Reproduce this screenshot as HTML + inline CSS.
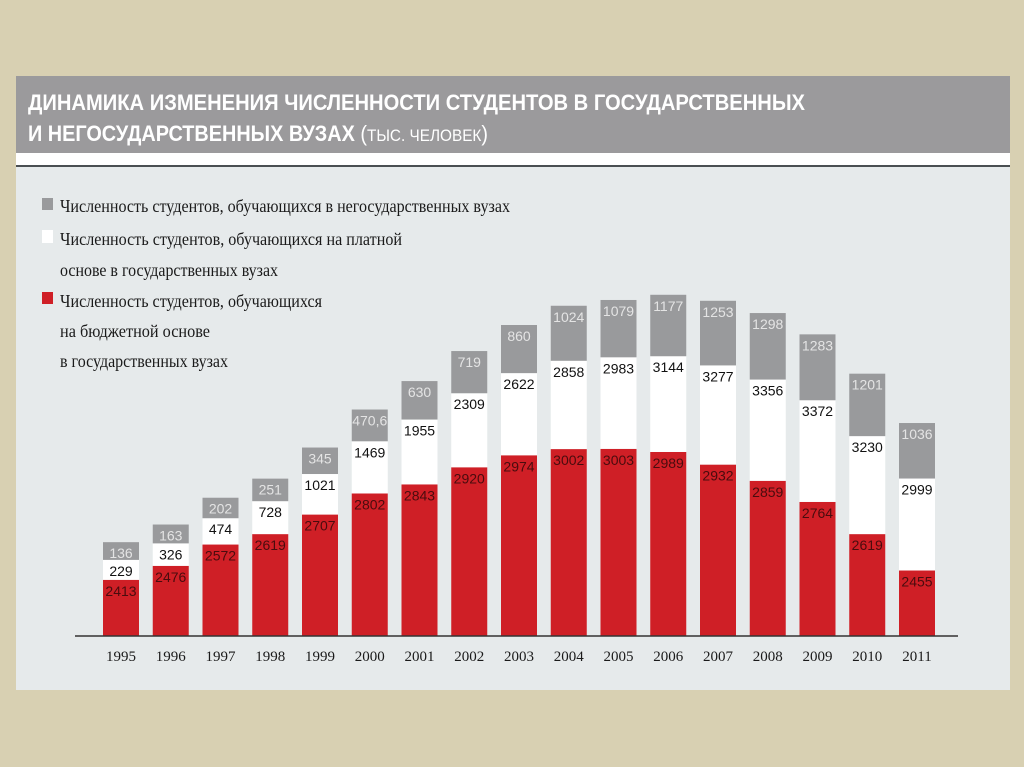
<!DOCTYPE html>
<html><head><meta charset="utf-8"><style>
html,body{margin:0;padding:0;width:1024px;height:767px;overflow:hidden;background:#d8d0b2}
svg{display:block}
</style></head><body>
<svg width="1024" height="767" viewBox="0 0 1024 767">
<rect x="0" y="0" width="1024" height="767" fill="#d8d0b2"/>
<rect x="16" y="76" width="994" height="614" fill="#e6eaeb"/>
<rect x="16" y="76" width="994" height="77" fill="#9b9a9c"/>
<rect x="16" y="153" width="994" height="12" fill="#ffffff"/>
<rect x="16" y="165" width="994" height="2" fill="#4a4f52"/>
<g font-family="'Liberation Sans Narrow','Liberation Sans',sans-serif" font-weight="bold" fill="#ffffff" font-size="22">
<text x="28" y="110" textLength="777" lengthAdjust="spacingAndGlyphs">ДИНАМИКА ИЗМЕНЕНИЯ ЧИСЛЕННОСТИ СТУДЕНТОВ В ГОСУДАРСТВЕННЫХ</text>
<text x="28" y="141" textLength="460" lengthAdjust="spacingAndGlyphs">И НЕГОСУДАРСТВЕННЫХ ВУЗАХ <tspan font-weight="normal">(</tspan><tspan font-weight="normal" font-size="17">ТЫС. ЧЕЛОВЕК</tspan><tspan font-weight="normal">)</tspan></text>
</g>
<g font-family="'Liberation Serif',serif" font-size="18" fill="#1a1a1a">
<rect x="42" y="198" width="11" height="12" fill="#999a9c"/>
<text x="60" y="212" textLength="450" lengthAdjust="spacingAndGlyphs">Численность студентов, обучающихся в негосударственных вузах</text>
<rect x="42" y="230" width="11" height="13" fill="#ffffff"/>
<text x="60" y="245" textLength="342" lengthAdjust="spacingAndGlyphs">Численность студентов, обучающихся на платной</text>
<text x="60" y="276" textLength="218" lengthAdjust="spacingAndGlyphs">основе в государственных вузах</text>
<rect x="42" y="292" width="11" height="12" fill="#cf1f26"/>
<text x="60" y="307" textLength="262" lengthAdjust="spacingAndGlyphs">Численность студентов, обучающихся</text>
<text x="60" y="337" textLength="150" lengthAdjust="spacingAndGlyphs">на бюджетной основе</text>
<text x="60" y="367" textLength="168" lengthAdjust="spacingAndGlyphs">в государственных вузах</text>
</g>
<g id="bars"></g>
<line x1="75" y1="636" x2="958" y2="636" stroke="#333" stroke-width="1.5"/>
<g id="xlabels" font-family="'Liberation Serif',serif" font-size="15" fill="#1a1a1a" text-anchor="middle"></g>
</svg>
<script>
const years = ['1995','1996','1997','1998','1999','2000','2001','2002','2003','2004','2005','2006','2007','2008','2009','2010','2011'];
const budget = [2413,2476,2572,2619,2707,2802,2843,2920,2974,3002,3003,2989,2932,2859,2764,2619,2455];
const paid = [229,326,474,728,1021,1469,1955,2309,2622,2858,2983,3144,3277,3356,3372,3230,2999];
const privateU = [136,163,202,251,345,470.6,630,719,860,1024,1079,1177,1253,1298,1283,1201,1036];
const baseY = 636;
function xPos(i){ return 103 + i*49.75; }
function hBudget(v){ return (v-2160)*0.222; }
function hPaid(v){ return 14 + v*0.026; }
function hPrivate(v){ return 12 + v*0.042; }
const NS='http://www.w3.org/2000/svg';
const bars=document.getElementById('bars');
const xl=document.getElementById('xlabels');
function fmt(v){ return String(v).replace('.',','); }
function seg(x,y,h,fill,name){
  const r=document.createElementNS(NS,'rect');
  r.setAttribute('x',x);r.setAttribute('y',y);r.setAttribute('width',36);r.setAttribute('height',h);r.setAttribute('fill',fill);
  
  
  bars.appendChild(r);
}
function lab(x,y,txt,fill,name){
  const t=document.createElementNS(NS,'text');
  t.setAttribute('x',x);t.setAttribute('y',y);t.setAttribute('fill',fill);
  t.setAttribute('font-family',"'Liberation Sans Narrow','Liberation Sans',sans-serif");
  t.setAttribute('font-size','14');t.setAttribute('text-anchor','middle');
  t.textContent=txt;
  
  
  bars.appendChild(t);
}
years.forEach((yr,i)=>{
  const x=xPos(i), cx=x+18;
  const hb=hBudget(budget[i]), hp=hPaid(paid[i]), hv=hPrivate(privateU[i]);
  const yb=baseY-hb, yp=yb-hp, yv=yp-hv;
  seg(x,yb,hb,'#cf1f26','bar-budget-'+yr);
  seg(x,yp,hp,'#ffffff','bar-paid-'+yr);
  seg(x,yv,hv,'#999a9c','bar-private-'+yr);
  lab(cx,yb+16,fmt(budget[i]),'#4a0c0e','label-budget-'+yr);
  lab(cx,yp+16,fmt(paid[i]),'#111','label-paid-'+yr);
  lab(cx,yv+16,fmt(privateU[i]),'#e4e4e4','label-private-'+yr);
  const t=document.createElementNS(NS,'text');
  t.setAttribute('x',cx);t.setAttribute('y',661);t.textContent=yr;
  
  
  xl.appendChild(t);
});
</script>
</body></html>
